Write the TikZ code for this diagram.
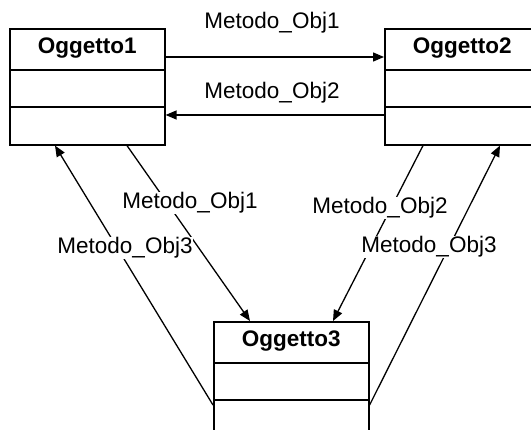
\documentclass[tikz,border=0pt]{standalone}
\usepackage{fontspec}
\setmainfont{Liberation Sans}
\usetikzlibrary{arrows.meta,calc}

\begin{document}
\begin{tikzpicture}[x=1pt,y=-1pt,
  cls/.style={draw, line width=1.6pt, minimum width=155pt, minimum height=116pt,
              inner sep=0pt, anchor=north west},
  title/.style={font=\fontsize{22.5}{26}\selectfont\bfseries},
  lbl/.style={font=\fontsize{22.5}{26}\selectfont, fill=white, inner sep=0.5pt},
  msg/.style={line width=1.3pt, -{Triangle[length=11pt,width=9pt]}},
  ]
\useasboundingbox (0,0) rectangle (531,430);
\clip (0,0) rectangle (531,430);

% class boxes with two compartment dividers each
\node[cls] (o1) at (9,28) {};
\node[cls] (o2) at (384,28) {};
\node[cls] (o3) at (213,321) {};
\foreach \c/\n in {o1/1,o2/2,o3/3}{
  \draw[line width=1.4pt] ([yshift=-42pt]\c.north west) -- ([yshift=-42pt]\c.north east);
  \draw[line width=1.4pt] ([yshift=-79pt]\c.north west) -- ([yshift=-79pt]\c.north east);
  \node[title] (t\n) at ([yshift=-20pt]\c.north) {Oggetto\n};
}

% method calls between the objects
\draw[msg] ([yshift=-29pt]o1.north east) -- ([yshift=-29pt]o2.north west);
\draw[msg] ([yshift=-87pt]o2.north west) -- ([yshift=-87pt]o1.north east);
\draw[msg] ([xshift=118pt]o1.south west) -- ([xshift=37pt]o3.north west);
\draw[msg] ([xshift=39pt]o2.south west) -- ([xshift=120pt]o3.north west);
\draw[msg] ([yshift=-84pt]o3.north west) -- ([xshift=46pt]o1.south west);
\draw[msg] ([yshift=-84pt]o3.north east) -- ([xshift=116pt]o2.south west);

% call labels
\node[lbl] (m1a) at (272,23) {Metodo\_Obj1};
\node[lbl] (m2a) at (272,93) {Metodo\_Obj2};
\node[lbl] (m1b) at (190,203) {Metodo\_Obj1};
\node[lbl] (m3a) at (125,248) {Metodo\_Obj3};
\node[lbl] (m2b) at (380,208) {Metodo\_Obj2};
\node[lbl] (m3b) at (429,247) {Metodo\_Obj3};
\end{tikzpicture}
\end{document}
